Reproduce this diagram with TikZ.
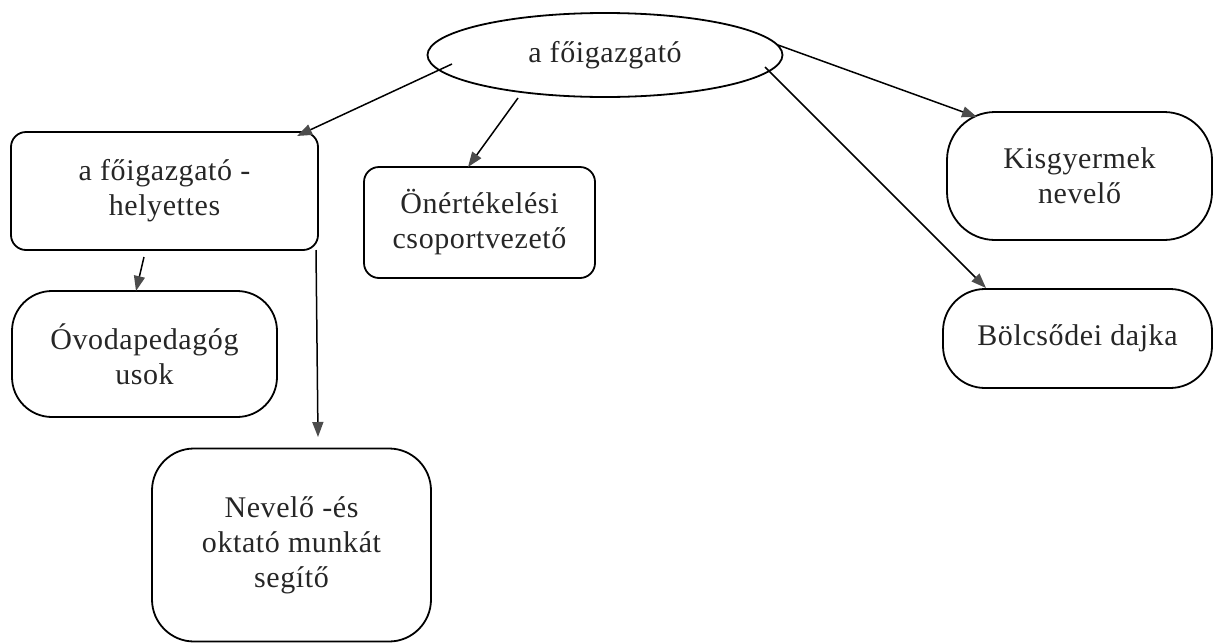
\documentclass[tikz,border=0pt]{standalone}
\usepackage{fontspec}
\setmainfont{Liberation Serif}[LetterSpace=2]
\usetikzlibrary{arrows.meta,shapes.geometric,calc}
\begin{document}
\begin{tikzpicture}[x=1pt,y=-1pt,
  txt/.style={align=center, inner sep=0pt, text=black!85, font=\fontsize{30}{35}\selectfont},
  box/.style={txt, draw, line width=1.8pt},
  conn/.style={line width=1.5pt, -{Triangle[length=15pt,width=11pt,color=black!70,fill=black!70]}}]
\useasboundingbox (0,0) rectangle (1215,643);
\node[box, ellipse, minimum width=355pt, minimum height=84pt] (ell) at (605,55) {a főigazgató};
\node[box, rounded corners=15pt, minimum width=307pt, minimum height=118pt] (hely) at (164.5,191) {a főigazgató -\\helyettes};
\node[box, rounded corners=15pt, minimum width=231pt, minimum height=111pt] (ons) at (479.5,222.5) {Önértékelési\\csoportvezető};
\node[box, rounded corners=40pt, minimum width=265pt, minimum height=126pt] (ovo) at (144.5,354) {Óvodapedagóg\\usok};
\node[box, rounded corners=42pt, minimum width=279pt, minimum height=193pt] (nev) at (291.5,545) {Nevelő -és\\oktató munkát\\segítő};
\node[box, rounded corners=48pt, minimum width=265pt, minimum height=128pt] (kis) at (1079.5,176) {Kisgyermek\\nevelő};
\node[box, rounded corners=42pt, minimum width=269pt, minimum height=99pt] (bol) at (1077.5,338.5) {Bölcsődei dajka};
\draw[conn] ([shift={(-153,9)}]ell.center) -- ([shift={(132.5,-55)}]hely.center);
\draw[conn] ([shift={(-87,43)}]ell.center) -- ([shift={(-11.5,-55.5)}]ons.center);
\draw[conn] ([shift={(-20.5,66)}]hely.center) -- ([shift={(-8.5,-63)}]ovo.center);
\draw[conn] ([shift={(151.5,59)}]hely.center) -- ([shift={(26.5,-108)}]nev.center);
\draw[conn] ([shift={(173,-10)}]ell.center) -- ([shift={(-102.5,-59)}]kis.center);
\draw[conn] ([shift={(160,12)}]ell.center) -- ([shift={(-91.5,-50.5)}]bol.center);
\end{tikzpicture}
\end{document}
